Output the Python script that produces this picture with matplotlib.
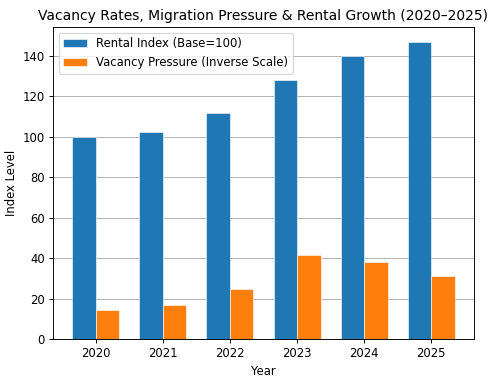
import matplotlib.pyplot as plt
import numpy as np

years = ['2020', '2021', '2022', '2023', '2024', '2025']
rental_index = [100, 102.3, 112, 128, 140, 147]
vacancy_pressure = [14.3, 16.8, 25, 41.6, 38.3, 31.3]

dpi = 83.5
fig, ax = plt.subplots(figsize=(500 / dpi, 384 / dpi), dpi=dpi)

bar_width = 0.35
index = np.arange(len(years))

ax.bar(index - bar_width / 2, rental_index, bar_width, color='#1f77b4',
       edgecolor='white', linewidth=0.5, label='Rental Index (Base=100)')
ax.bar(index + bar_width / 2, vacancy_pressure, bar_width, color='#ff7f0e',
       edgecolor='white', linewidth=0.5, label='Vacancy Pressure (Inverse Scale)')

ax.set_xticks(index)
ax.set_xticklabels(years)
ax.set_xlabel('Year')
ax.set_ylabel('Index Level')
ax.set_title('Vacancy Rates, Migration Pressure & Rental Growth (2020\u20132025)')
ax.legend(loc='upper left')
ax.grid(axis='y')
ax.set_axisbelow(True)

fig.subplots_adjust(left=0.106, right=0.948, top=0.930, bottom=0.117)
fig.savefig('out.png', dpi=dpi)
